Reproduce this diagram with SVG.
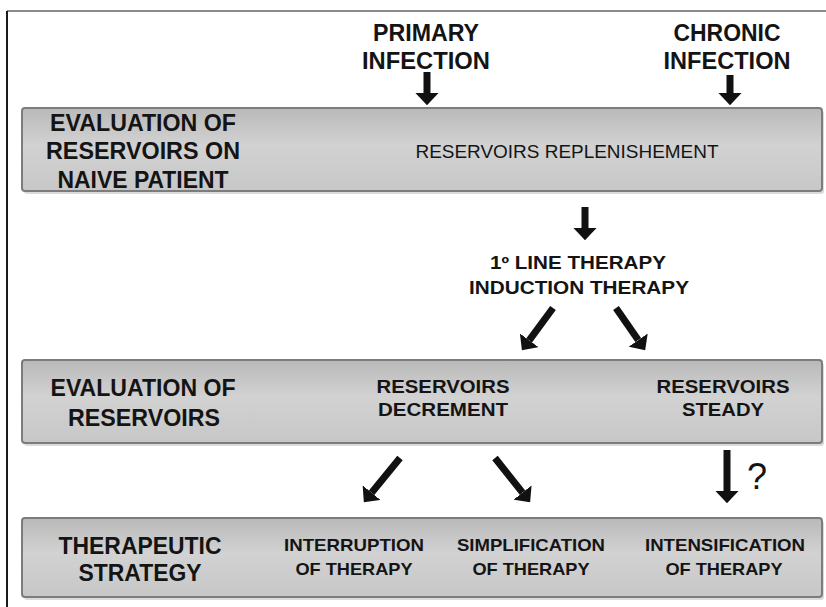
<svg xmlns="http://www.w3.org/2000/svg" width="826" height="607" viewBox="0 0 826 607">
<defs>
<linearGradient id="boxfill" x1="0" y1="0" x2="0" y2="1">
<stop offset="0" stop-color="#b9b9b9"/>
<stop offset="0.45" stop-color="#d2d2d2"/>
<stop offset="1" stop-color="#c7c7c7"/>
</linearGradient>
<marker id="head" viewBox="0 0 10 10" refX="0" refY="5" markerWidth="1.75" markerHeight="3.3" markerUnits="strokeWidth" orient="auto" preserveAspectRatio="none">
<path d="M0,0 L10,5 L0,10 z" fill="#111"/>
</marker>
</defs>
<style>
.box{fill:url(#boxfill);stroke:#7c7c7c;stroke-width:2}
.shadow{fill:#999;opacity:0.35}
text{font-family:"Liberation Sans Narrow","Liberation Sans",Arial,sans-serif;font-weight:bold;fill:#141414;text-anchor:middle}
.big{font-size:23px}
.mid{font-size:18px}
.sm{font-size:17px}
.reg{font-weight:normal;font-size:19px}
.arrow{stroke:#111;stroke-width:7;fill:none;marker-end:url(#head)}
</style>
<rect x="0" y="0" width="826" height="607" fill="#ffffff"/>
<line x1="7" y1="11" x2="826" y2="11" stroke="#8a8a8a" stroke-width="2"/>
<line x1="7" y1="11" x2="7" y2="607" stroke="#1a1a1a" stroke-width="2"/>

<g id="primary-infection">
<text class="big" x="426" y="41" textLength="106" lengthAdjust="spacingAndGlyphs">PRIMARY</text>
<text class="big" x="426" y="69" textLength="128" lengthAdjust="spacingAndGlyphs">INFECTION</text>
</g>
<g id="chronic-infection">
<text class="big" x="727" y="41" textLength="107" lengthAdjust="spacingAndGlyphs">CHRONIC</text>
<text class="big" x="727" y="69" textLength="127" lengthAdjust="spacingAndGlyphs">INFECTION</text>
</g>

<g id="box-naive">
<rect class="shadow" x="24" y="111" width="800" height="83" rx="3"/>
<rect class="box" x="22" y="108" width="800" height="83" rx="3"/>
<text class="big" x="143" y="131" textLength="186" lengthAdjust="spacingAndGlyphs">EVALUATION OF</text>
<text class="big" x="143" y="159" textLength="194" lengthAdjust="spacingAndGlyphs">RESERVOIRS ON</text>
<text class="big" x="143" y="188" textLength="171" lengthAdjust="spacingAndGlyphs">NAIVE PATIENT</text>
<text class="reg" x="567" y="158" textLength="303" lengthAdjust="spacingAndGlyphs">RESERVOIRS REPLENISHEMENT</text>
</g>

<g id="first-line-therapy">
<text class="mid" x="578" y="269" textLength="176" lengthAdjust="spacingAndGlyphs">1º LINE THERAPY</text>
<text class="mid" x="579" y="294" textLength="220" lengthAdjust="spacingAndGlyphs">INDUCTION THERAPY</text>
</g>

<g id="box-evaluation">
<rect class="shadow" x="24" y="363" width="800" height="83" rx="3"/>
<rect class="box" x="22" y="360" width="800" height="83" rx="3"/>
<text class="big" x="143" y="396" textLength="185" lengthAdjust="spacingAndGlyphs">EVALUATION OF</text>
<text class="big" x="144" y="426" textLength="152" lengthAdjust="spacingAndGlyphs">RESERVOIRS</text>
<text class="mid" x="443" y="393" textLength="133" lengthAdjust="spacingAndGlyphs">RESERVOIRS</text>
<text class="mid" x="443" y="416" textLength="130" lengthAdjust="spacingAndGlyphs">DECREMENT</text>
<text class="mid" x="723" y="393" textLength="133" lengthAdjust="spacingAndGlyphs">RESERVOIRS</text>
<text class="mid" x="723" y="416" textLength="82" lengthAdjust="spacingAndGlyphs">STEADY</text>
</g>

<g id="box-strategy">
<rect class="shadow" x="24" y="521" width="800" height="79" rx="3"/>
<rect class="box" x="22" y="518" width="800" height="79" rx="3"/>
<text class="big" x="140" y="554" textLength="163" lengthAdjust="spacingAndGlyphs">THERAPEUTIC</text>
<text class="big" x="140" y="581" textLength="123" lengthAdjust="spacingAndGlyphs">STRATEGY</text>
<text class="sm" x="354" y="551" textLength="140" lengthAdjust="spacingAndGlyphs">INTERRUPTION</text>
<text class="sm" x="354" y="575" textLength="117" lengthAdjust="spacingAndGlyphs">OF THERAPY</text>
<text class="sm" x="531" y="551" textLength="148" lengthAdjust="spacingAndGlyphs">SIMPLIFICATION</text>
<text class="sm" x="531" y="575" textLength="117" lengthAdjust="spacingAndGlyphs">OF THERAPY</text>
<text class="sm" x="725" y="551" textLength="160" lengthAdjust="spacingAndGlyphs">INTENSIFICATION</text>
<text class="sm" x="724" y="575" textLength="117" lengthAdjust="spacingAndGlyphs">OF THERAPY</text>
</g>

<g id="connectors">
<line class="arrow" x1="427" y1="72" x2="427" y2="93"/>
<line class="arrow" x1="730" y1="75" x2="730" y2="93"/>
<line class="arrow" x1="585" y1="207" x2="585" y2="228"/>
<line class="arrow" x1="553" y1="308" x2="529.2" y2="340.3"/>
<line class="arrow" x1="616" y1="308" x2="638.2" y2="340.1"/>
<line class="arrow" x1="400" y1="458" x2="371.6" y2="492.7"/>
<line class="arrow" x1="495" y1="458" x2="522.5" y2="492.6"/>
<line class="arrow" x1="727" y1="450" x2="727" y2="491"/>
<text x="757" y="489" style="font-family:'Liberation Sans',Arial,sans-serif;font-weight:normal;font-size:36px">?</text>
</g>
</svg>
